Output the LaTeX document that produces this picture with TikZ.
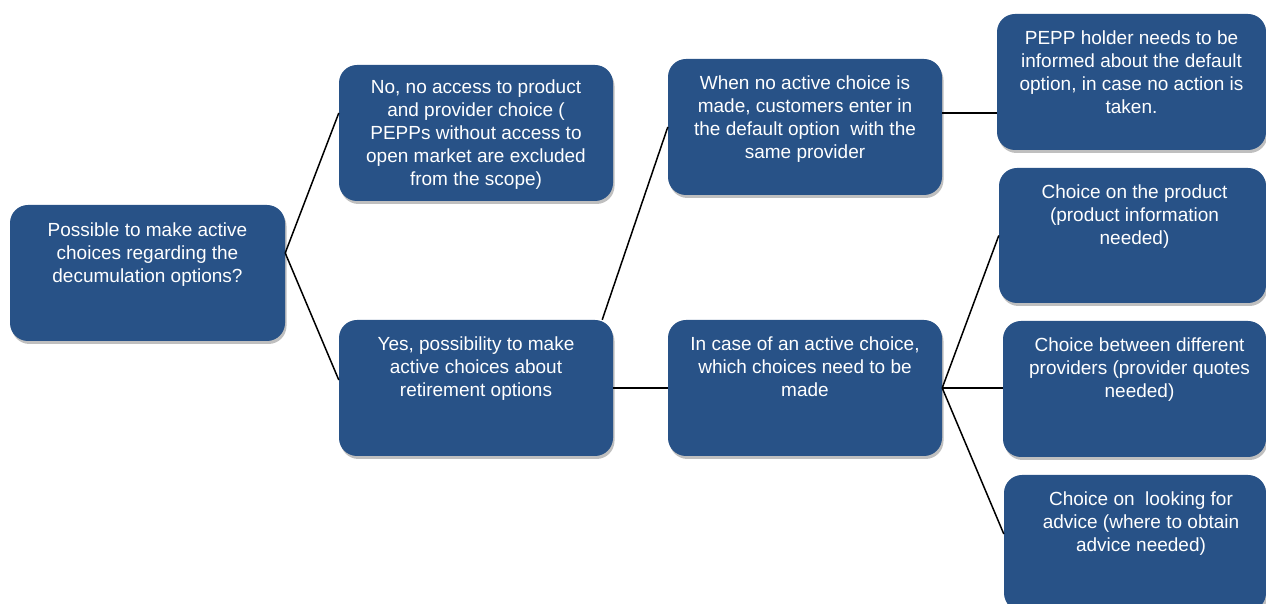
\documentclass[tikz,border=0pt]{standalone}
\usepackage{fontspec}
\setmainfont{Liberation Sans}
\usetikzlibrary{shadows}
\definecolor{boxblue}{RGB}{40,82,135}
\begin{document}
\begin{tikzpicture}[x=1pt,y=1pt,
  card/.style={fill=boxblue, rounded corners=18pt, minimum width=274pt,
    minimum height=136pt, inner sep=0pt,
    drop shadow={shadow xshift=1.5pt, shadow yshift=-3pt, opacity=0.25, fill=black}},
  cardtext/.style={anchor=north, align=center, text=white, inner sep=0pt,
    font=\fontsize{19}{23}\selectfont},
  link/.style={draw=black, line width=1.5pt}]
\useasboundingbox (0,0) rectangle (1266,604);
\clip (0,0) rectangle (1266,604);

% boxes
\node[card, minimum width=275pt] (root) at (147.5,331) {};
\node[card] (no) at (476,471) {};
\node[card] (yes) at (476,216) {};
\node[card] (when) at (805,477) {};
\node[card] (incase) at (805,216) {};
\node[card, minimum width=269pt] (pepp) at (1131.5,522) {};
\node[card, minimum width=267pt, minimum height=135pt] (product) at (1132.5,368.5) {};
\node[card, minimum width=263pt] (providers) at (1134.5,215) {};
\node[card, minimum width=262pt] (advice) at (1135,61) {};

% texts
\node[cardtext] (rootT) at ([yshift=-18pt]root.north)
  {Possible to make active\\choices regarding the\\decumulation options?};
\node[cardtext] (noT) at ([yshift=-15pt]no.north)
  {No, no access to product\\and provider choice (\\PEPPs without access to\\open market are excluded\\from the scope)};
\node[cardtext] (yesT) at ([yshift=-17pt]yes.north)
  {Yes, possibility to make\\active choices about\\retirement options};
\node[cardtext] (whenT) at ([yshift=-17pt]when.north)
  {When no active choice is\\made, customers enter in\\the default option\ \ with the\\same provider};
\node[cardtext] (incaseT) at ([yshift=-17pt]incase.north)
  {In case of an active choice,\\which choices need to be\\made};
\node[cardtext] (peppT) at ([yshift=-17pt]pepp.north)
  {PEPP holder needs to be\\informed about the default\\option, in case no action is\\taken.};
\node[cardtext] (productT) at ([xshift=2pt,yshift=-17pt]product.north)
  {Choice on the product\\(product information\\needed)};
\node[cardtext] (providersT) at ([xshift=5pt,yshift=-17pt]providers.north)
  {Choice between different\\providers (provider quotes\\needed)};
\node[cardtext] (adviceT) at ([xshift=6pt,yshift=-17pt]advice.north)
  {Choice on\ \ looking for\\advice (where to obtain\\advice needed)};

% connectors
\draw[link] ([yshift=20pt]root.east) -- ([yshift=20pt]no.west);
\draw[link] ([yshift=20pt]root.east) -- ([yshift=8pt]yes.west);
\draw[link] ([xshift=-11pt]yes.north east) -- (when.west);
\draw[link] (yes.east) -- (incase.west);
\draw[link] ([yshift=14pt]when.east) coordinate (wr) -- (wr -| pepp.west);
\draw[link] (incase.east) -- (product.west);
\draw[link] (incase.east) -- (incase.east -| providers.west);
\draw[link] (incase.east) -- ([yshift=9pt]advice.west);
\end{tikzpicture}
\end{document}
